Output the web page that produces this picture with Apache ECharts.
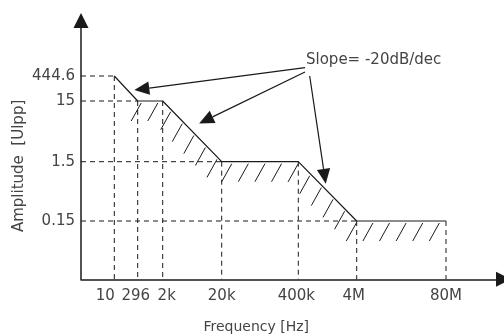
<!DOCTYPE html>
<html>
<head>
<meta charset="utf-8">
<title>Amplitude limit</title>
<script src="https://cdn.jsdelivr.net/npm/echarts@6/dist/echarts.min.js"></script>
<style>
  html, body { margin: 0; padding: 0; background: #fff; }
  #chart { width: 504px; height: 334px; }
</style>
</head>
<body>
<div id="chart"></div>
<script>
// the drawing is schematic (not to scale), so each tick has its own position
var freqLabels = ['10', '296', '2k', '20k', '400k', '4M', '80M'];
var freqPos = [33.3, 56.7, 81.7, 140.7, 217.3, 275.7, 365];
var ampLabels = ['0.15', '1.5', '15', '444.6'];
var ampPos = [58.3, 117.6, 178.3, 203.3];
// limit amplitude at every frequency corner
var limitAmp = ['444.6', '15', '15', '1.5', '1.5', '0.15', '0.15'];
var slopeText = 'Slope= -20dB/dec';

var ink = '#1a1a1a';
var textColor = '#444';
var font = 'DejaVu Sans';

var curve = limitAmp.map(function (a, i) {
  return [freqPos[i], ampPos[ampLabels.indexOf(a)]];
});

// crowded frequency labels are pushed a little sideways
var nudge = { '10': -9, '296': -2, '2k': 4, '20k': 0, '400k': -2, '4M': -3, '80M': 0 };
var rich = {};
freqLabels.forEach(function (t, i) {
  var n = nudge[t] || 0;
  rich['f' + i] = {
    fontSize: 15, fontFamily: font, color: textColor,
    padding: n < 0 ? [0, -2 * n, 0, 0] : [0, 0, 0, 2 * n]
  };
});

function nearest(arr, v) {
  var best = 0;
  arr.forEach(function (x, i) { if (Math.abs(x - v) < Math.abs(arr[best] - v)) best = i; });
  return best;
}

function seg(x1, y1, x2, y2, style) {
  return { type: 'line', shape: { x1: x1, y1: y1, x2: x2, y2: y2 }, style: style };
}

// dashed guides: corners down to the x axis, y axis across to the first corner of each level
function renderGuides(params, api) {
  var dash = { stroke: ink, lineWidth: 1, lineDash: [5, 4], fill: null };
  var children = [];
  curve.forEach(function (p) {
    var a = api.coord(p), b = api.coord([p[0], 0]);
    children.push(seg(a[0], a[1], b[0], b[1], dash));
  });
  ampLabels.forEach(function (a) {
    var p = curve[limitAmp.indexOf(a)];
    var s = api.coord([0, p[1]]), e = api.coord(p);
    children.push(seg(s[0], s[1], e[0], e[1], dash));
  });
  return { type: 'group', children: children };
}

// hatching under the limit line, from 296 Hz on
function renderHatch(params, api) {
  var pts = curve.slice(1).map(function (p) { return api.coord(p); });
  var st = { stroke: ink, lineWidth: 1, fill: null };
  var children = [];
  var step = 16.6, s = 4, acc = 0;
  for (var k = 0; k < pts.length - 1; k++) {
    var a = pts[k], b = pts[k + 1];
    var len = Math.hypot(b[0] - a[0], b[1] - a[1]);
    while (s <= acc + len) {
      var t = (s - acc) / len;
      var x = a[0] + (b[0] - a[0]) * t, y = a[1] + (b[1] - a[1]) * t;
      children.push(seg(x - 0.5, y + 2, x - 10.5, y + 20, st));
      s += step;
    }
    acc += len;
  }
  return { type: 'group', children: children };
}

// note with arrows to the three sloped segments
var notePx = [306, 60];
var arrows = [
  { seg: 0, t: 0.70, off: 5, from: [-1, 7.7] },
  { seg: 2, t: 0.49, off: 10.5, from: [-1, 12] },
  { seg: 4, t: 0.42, off: 4.1, from: [3.7, 16] }
];
function renderNote(params, api) {
  var children = [];
  arrows.forEach(function (ar) {
    var a = api.coord(curve[ar.seg]), b = api.coord(curve[ar.seg + 1]);
    var dx = b[0] - a[0], dy = b[1] - a[1], len = Math.hypot(dx, dy);
    var tip = [a[0] + dx * ar.t + dy / len * ar.off, a[1] + dy * ar.t - dx / len * ar.off];
    var st = [notePx[0] + ar.from[0], notePx[1] + ar.from[1]];
    var ux = tip[0] - st[0], uy = tip[1] - st[1], ul = Math.hypot(ux, uy);
    ux /= ul; uy /= ul;
    var L = 15, w = 6.7;
    var base = [tip[0] - ux * L, tip[1] - uy * L];
    children.push(seg(st[0], st[1], base[0], base[1], { stroke: ink, lineWidth: 1.2, fill: null }));
    children.push({
      type: 'polygon',
      shape: { points: [tip, [base[0] - uy * w, base[1] + ux * w], [base[0] + uy * w, base[1] - ux * w]] },
      style: { fill: ink, stroke: null }
    });
  });
  children.push({
    type: 'text', x: notePx[0], y: notePx[1],
    style: { text: slopeText, fill: textColor, font: '15px "DejaVu Sans"', align: 'left', verticalAlign: 'middle' }
  });
  return { type: 'group', children: children };
}

var chart = echarts.init(document.getElementById('chart'));
var option = {
  animation: false,
  grid: { left: 81, right: 0.5, top: 20.5, bottom: 54.7, outerBoundsMode: 'none' },
  xAxis: {
    type: 'value', min: 0, max: 422.5,
    axisLine: { show: true, onZero: false, symbol: ['none', 'triangle'], symbolSize: [15, 15],
      lineStyle: { color: ink, width: 1.5 } },
    axisTick: { show: false },
    splitLine: { show: false },
    axisLabel: {
      customValues: freqPos, margin: 9,
      formatter: function (v) { var i = nearest(freqPos, v); return '{f' + i + '|' + freqLabels[i] + '}'; },
      rich: rich
    },
    name: 'Frequency [Hz]', nameLocation: 'middle', nameGap: 41, nameMoveOverlap: false,
    nameTextStyle: { fontSize: 14, fontFamily: font, color: textColor, padding: [0, 72, 0, 0] }
  },
  yAxis: {
    type: 'value', min: 0, max: 258.8,
    axisLine: { show: true, onZero: false, symbol: ['none', 'triangle'], symbolSize: [15, 15],
      lineStyle: { color: ink, width: 1.5 } },
    axisTick: { show: false },
    splitLine: { show: false },
    axisLabel: {
      customValues: ampPos, margin: 6, fontSize: 15, fontFamily: font, color: textColor,
      formatter: function (v) { return ampLabels[nearest(ampPos, v)]; }
    },
    name: 'Amplitude  [Ulpp]', nameLocation: 'middle', nameRotate: 90, nameGap: 54, nameMoveOverlap: false,
    nameTextStyle: { fontSize: 15, fontFamily: font, color: textColor, padding: [0, 32, 0, 0] }
  },
  series: [
    { type: 'custom', renderItem: renderGuides, data: [[0, 0]], silent: true, clip: false, z: 2 },
    { type: 'custom', renderItem: renderHatch, data: [[0, 0]], silent: true, clip: false, z: 3 },
    {
      type: 'line', data: curve, symbol: 'none', silent: true, z: 5,
      lineStyle: { color: ink, width: 1.2 }
    },
    { type: 'custom', renderItem: renderNote, data: [[0, 0]], silent: true, clip: false, z: 6 }
  ]
};
chart.setOption(option);
</script>
</body>
</html>
